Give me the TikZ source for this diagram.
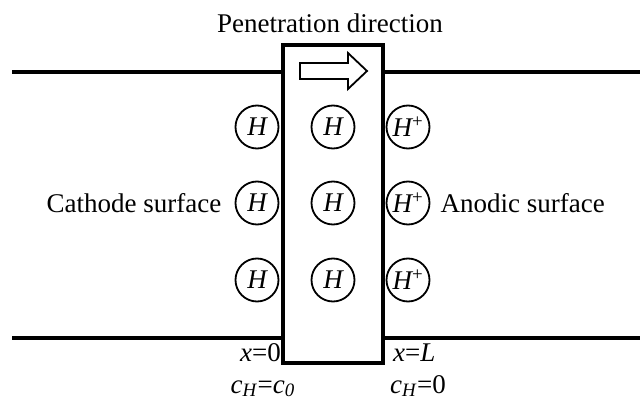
\documentclass[tikz,border=0pt]{standalone}
\usepackage{fontspec}
\setmainfont{Liberation Serif}
\usepackage{xcolor}
\usepackage{tikz}
\usetikzlibrary{positioning,calc}
\tikzset{
    slab/.style={
        rectangle,
        draw=black,
        line width=3.5pt,
        minimum width=100pt,
        minimum height=318pt,
        inner sep=0pt,
    },
    surf/.style={
        line width=3.5pt,
        black,
    },
    atom/.style={
        circle,
        draw=black,
        line width=1.8pt,
        minimum size=43pt,
        inner sep=0pt,
        font=\fontsize{27}{32}\selectfont\itshape,
    },
    blockarrow/.style={
        draw=black,
        fill=white,
        line width=1.8pt,
        line join=miter,
    },
    tag/.style={
        inner sep=0pt,
    },
}

\begin{document}
\begin{tikzpicture}[x=1pt,y=-1pt,font=\fontsize{27}{32}\selectfont]
    \useasboundingbox (0,0) rectangle (640,403);

    % Membrane
    \node[slab] (slab) at (333,204) {};

    % Surface lines
    \coordinate (tl) at (12,72);
    \coordinate (tr) at (640,72);
    \coordinate (bl) at (12,338);
    \coordinate (br) at (640,338);
    \draw[surf] (tl) -- (tl -| slab.west);
    \draw[surf] (tr -| slab.east) -- (tr);
    \draw[surf] (bl) -- (bl -| slab.west);
    \draw[surf] (br -| slab.east) -- (br);

    % Penetration arrow
    \draw[blockarrow] (300,63) -- (348,63) -- (348,53) -- (367,71) -- (348,89)
        -- (348,79) -- (300,79) -- cycle;
    \node[tag] (pendir) at (330,23) {Penetration direction};

    % Hydrogen atoms / ions
    \foreach \r/\y in {1/127,2/203,3/280} {
        \node[atom] (h1-\r) at (257,\y) {H};
        \node[atom] (h2-\r) at (333,\y) {H};
        \node[atom] (h3-\r) at (408,\y) {H\textsuperscript{\upshape +}};
    }

    % Surface labels
    \node[tag, left=13pt of h1-2] (cathode) {Cathode surface};
    \node[tag, right=10pt of h3-2] (anode) {Anodic surface};

    % Boundary conditions
    \node[tag, anchor=base east] (x0) at (281,361) {\textit{x}=0};
    \node[tag, anchor=base east] (c0) at (295,393) {\textit{c}\textsubscript{\textit{H}}=\textit{c}\textsubscript{\textit{0}}};
    \node[tag, anchor=base west] (xL) at (393,361) {\textit{x}=\textit{L}};
    \node[tag, anchor=base west] (cL) at (390,393) {\textit{c}\textsubscript{\textit{H}}=0};

\end{tikzpicture}
\end{document}
